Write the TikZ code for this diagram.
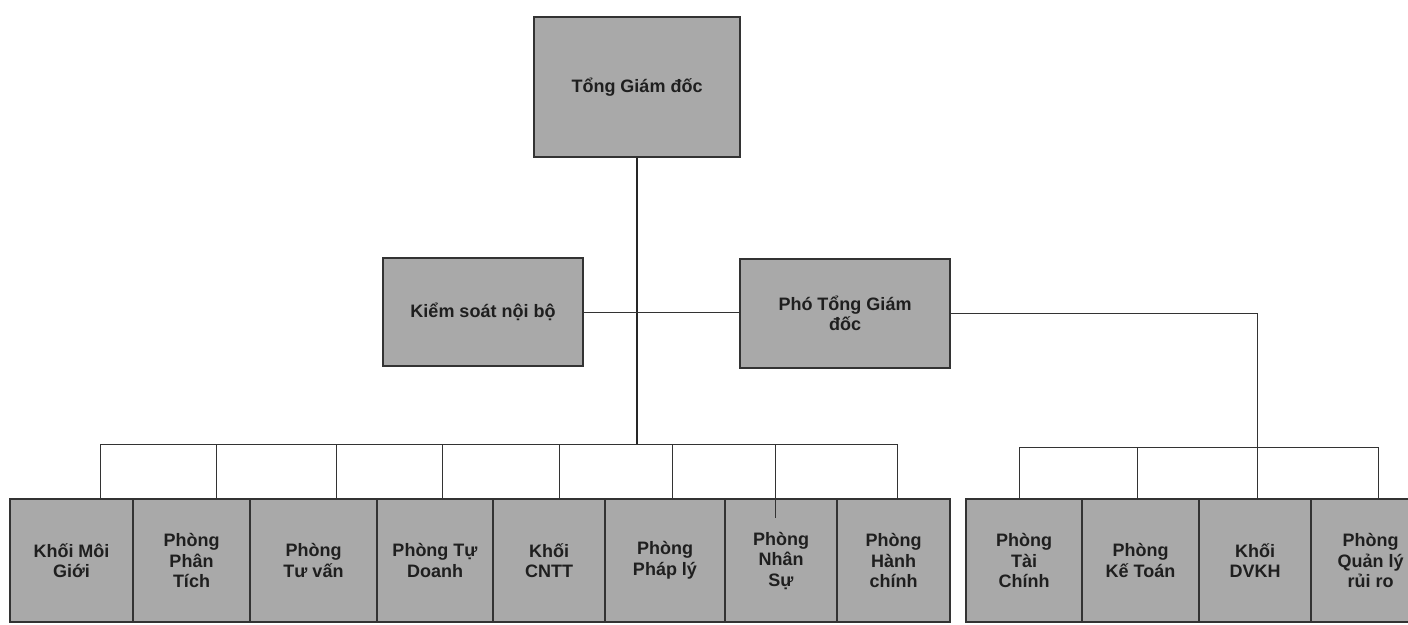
\documentclass[tikz,border=0pt]{standalone}
\usepackage{fontspec}
\setmainfont{Liberation Sans}
\begin{document}
\begin{tikzpicture}[x=1pt,y=-1pt,
  box/.style={draw=black!80,line width=1.4pt,fill=boxgray,text=black!88,
    font=\fontsize{18}{20.5}\selectfont\bfseries,align=center,inner sep=2pt},
  conn/.style={draw=black!80,line width=0.9pt},
  mainconn/.style={draw=black!85,line width=1.7pt}]
\definecolor{boxgray}{HTML}{A9A9A9}
\useasboundingbox (0,0) rectangle (1408,624);
\clip (0,0) rectangle (1408,624);
% top level
\node[box,minimum width=206pt,minimum height=140pt] (tgd) at (637,87) {Tổng Giám đốc};
\node[box,minimum width=200pt,minimum height=108pt] (ksnb) at (483,312) {Kiểm soát nội bộ};
\node[box,minimum width=210pt,minimum height=109pt] (ptgd) at (845,313.5) {Phó Tổng Giám\\đốc};
% bottom left boxes
\tikzset{bot/.style={box,minimum height=123pt}}
\node[bot,minimum width=123pt] (b1) at (71.5,560.5) {Khối Môi\\Giới};
\node[bot,minimum width=117pt] (b2) at (191.5,560.5) {Phòng\\Phân\\Tích};
\node[bot,minimum width=127pt] (b3) at (313.5,560.5) {Phòng\\Tư vấn};
\node[bot,minimum width=116pt] (b4) at (435,560.5) {Phòng Tự\\Doanh};
\node[bot,minimum width=112pt] (b5) at (549,560.5) {Khối\\CNTT};
\node[bot,minimum width=120pt] (b6) at (665,560.5) {Phòng\\Pháp lý};
\node[bot,minimum width=112pt] (b7) at (781,560.5) {Phòng\\Nhân\\Sự};
\node[bot,minimum width=113pt] (b8) at (893.5,560.5) {Phòng\\Hành\\chính};
% bottom right boxes
\node[bot,minimum width=116pt] (c1) at (1024,560.5) {Phòng\\Tài\\Chính};
\node[bot,minimum width=117pt] (c2) at (1140.5,560.5) {Phòng\\Kế Toán};
\node[bot,minimum width=112pt] (c3) at (1255,560.5) {Khối\\DVKH};
\node[bot,minimum width=119pt] (c4) at (1370.5,560.5) {Phòng\\Quản lý\\rủi ro};
% connectors
\coordinate (jL) at (637,444);
\draw[mainconn] (tgd.south) -- (jL);
\draw[conn] (ksnb.east) -- (ksnb.east -| ptgd.west);
% left bar
\coordinate (l1) at (100,444);
\coordinate (l2) at (216,444);
\coordinate (l3) at (336,444);
\coordinate (l4) at (442,444);
\coordinate (l5) at (559,444);
\coordinate (l6) at (672,444);
\coordinate (l7) at (775,444);
\coordinate (l8) at (897,444);
\draw[conn] (l1) -- (l8);
\draw[conn] (l1) -- (l1 |- b1.north);
\draw[conn] (l2) -- (l2 |- b2.north);
\draw[conn] (l3) -- (l3 |- b3.north);
\draw[conn] (l4) -- (l4 |- b4.north);
\draw[conn] (l5) -- (l5 |- b5.north);
\draw[conn] (l6) -- (l6 |- b6.north);
\draw[conn] (l7) -- ([yshift=-20pt]l7 |- b7.north);
\draw[conn] (l8) -- (l8 |- b8.north);
% right group
\coordinate (r3) at (1257,447);
\coordinate (r1) at (1019,447);
\coordinate (r2) at (1137,447);
\coordinate (r4) at (1378,447);
\draw[conn] (ptgd.east) -| (r3 |- c3.north);
\draw[conn] (r1) -- (r4);
\draw[conn] (r1) -- (r1 |- c1.north);
\draw[conn] (r2) -- (r2 |- c2.north);
\draw[conn] (r4) -- (r4 |- c4.north);
\end{tikzpicture}
\end{document}
